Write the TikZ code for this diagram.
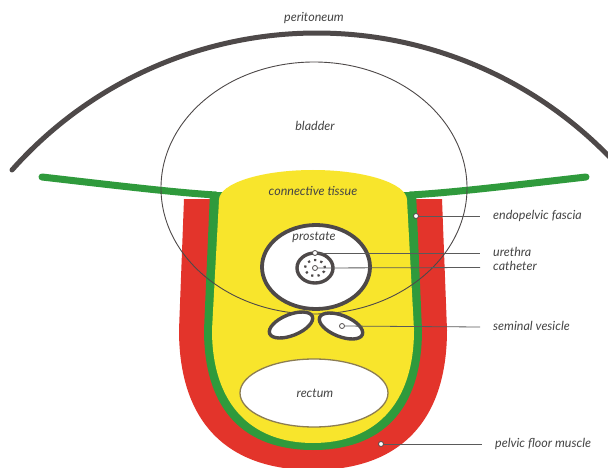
\documentclass[tikz,border=0pt]{standalone}
\usepackage{fontspec}
\setmainfont{Lato}
\usetikzlibrary{positioning}

\definecolor{musclered}{HTML}{E3342B}
\definecolor{fasciagreen}{HTML}{2F9A3C}
\definecolor{tissueyellow}{HTML}{F8E52C}
\definecolor{wallgray}{HTML}{4E4949}
\definecolor{linegray}{HTML}{5A5A5A}
\definecolor{textgray}{HTML}{454545}
\definecolor{rectumrim}{HTML}{8C7D52}

\tikzset{
  organ/.style={draw=wallgray, fill=white, line width=3.8pt},
  pointer/.style={draw=linegray, line width=0.8pt},
  pin dot/.style={circle, draw=wallgray, fill=white, line width=0.8pt, inner sep=0pt, minimum size=5pt},
  name tag/.style={text=textgray, inner sep=0pt, font=\itshape\fontsize{12.5}{14}\selectfont},
  side tag/.style={name tag, anchor=west, inner xsep=13pt, text height=8.5pt, text depth=2.5pt},
}

\begin{document}
\begin{tikzpicture}[x=1pt, y=1pt]

    \useasboundingbox[fill=white] (0,0) rectangle (608,-468);

    % --- peritoneum ---
    \draw[wallgray, line width=5pt, line cap=round]
        (12,-170) arc[start angle=138.4, end angle=44, radius=407.6pt];
    \node[name tag] (Peri) at (314,-18) {peritoneum};

    % --- pelvic floor muscle (outer red U) ---
    \fill[musclered] (184,-199) -- (179,-330)
        .. controls (179,-420) and (225,-470) .. (313,-470)
        .. controls (401,-470) and (447,-420) .. (447,-330)
        -- (442,-199) -- cycle;

    % --- endopelvic fascia: U band + wings ---
    \fill[fasciagreen] (210,-192) -- (204,-330)
        .. controls (204,-412) and (246,-450) .. (313,-450)
        .. controls (380,-450) and (422,-412) .. (422,-330)
        -- (416,-192) -- cycle;
    \draw[fasciagreen, line width=7pt, line cap=round]
        (42,-177) .. controls (120,-186) and (180,-193) .. (216,-195);
    \draw[fasciagreen, line width=7pt, line cap=round]
        (586,-177) .. controls (508,-186) and (448,-193) .. (410,-195);

    % --- connective tissue ---
    \fill[tissueyellow] (219,-200) -- (212,-330)
        .. controls (212,-406) and (253,-443) .. (313,-443)
        .. controls (373,-443) and (414,-406) .. (414,-330)
        -- (407,-200)
        arc[start angle=0, end angle=180, x radius=94pt, y radius=30pt] -- cycle;
    \node[name tag] (Tissue) at (313,-191) {connective tissue};

    % --- bladder ---
    \draw[wallgray, line width=0.9pt] (314,-188) ellipse[x radius=153pt, y radius=126pt];
    \node[name tag] (Bladder) at (315,-126) {bladder};

    % --- prostate, urethra, catheter ---
    \draw[organ] (316,-267) ellipse[x radius=54pt, y radius=42pt];
    \node[name tag] (Prostate) at (314,-237) {prostate};
    \draw[wallgray, line width=3.4pt] (315,-268) ellipse[x radius=18pt, y radius=15pt];
    \draw[wallgray, line width=2.2pt, dash pattern=on 2.2pt off 4.2pt]
        (315,-268) ellipse[x radius=10pt, y radius=8pt];

    % --- seminal vesicles ---
    \draw[organ, line width=3.4pt, rotate around={22:(291,-325)}]
        (291,-325) ellipse[x radius=23pt, y radius=10.5pt];
    \draw[organ, line width=3.4pt, rotate around={-22:(341,-326)}]
        (341,-326) ellipse[x radius=23pt, y radius=10.5pt];

    % --- rectum ---
    \draw[draw=rectumrim, fill=white, line width=1.3pt]
        (314,-393) ellipse[x radius=74pt, y radius=34pt];
    \node[name tag] (Rectum) at (315,-393) {rectum};

    % --- pins and side labels ---
    \node[pin dot] (FasciaPin)   at (416,-216) {};
    \node[pin dot] (UrethraPin)  at (315,-253) {};
    \node[pin dot] (CatheterPin) at (315,-268) {};
    \node[pin dot] (VesiclePin)  at (342,-326) {};
    \node[pin dot] (MusclePin)   at (381,-444) {};

    \node[side tag] (Fascia)   at (480,-216) {endopelvic fascia};
    \node[side tag] (Urethra)  at (480,-253) {urethra};
    \node[side tag] (Catheter) at (480,-267.5) {catheter};
    \node[side tag] (Vesicle)  at (480,-327) {seminal vesicle};
    \node[side tag] (Muscle)   at (482,-444) {pelvic floor muscle};

    \draw[pointer] (FasciaPin)   -- (Fascia.west);
    \draw[pointer] (UrethraPin)  -- (Urethra.west);
    \draw[pointer] (CatheterPin) -- (Catheter.west);
    \draw[pointer] (VesiclePin)  -- (Vesicle.west);
    \draw[pointer] (MusclePin)   -- (Muscle.west);

\end{tikzpicture}
\end{document}
